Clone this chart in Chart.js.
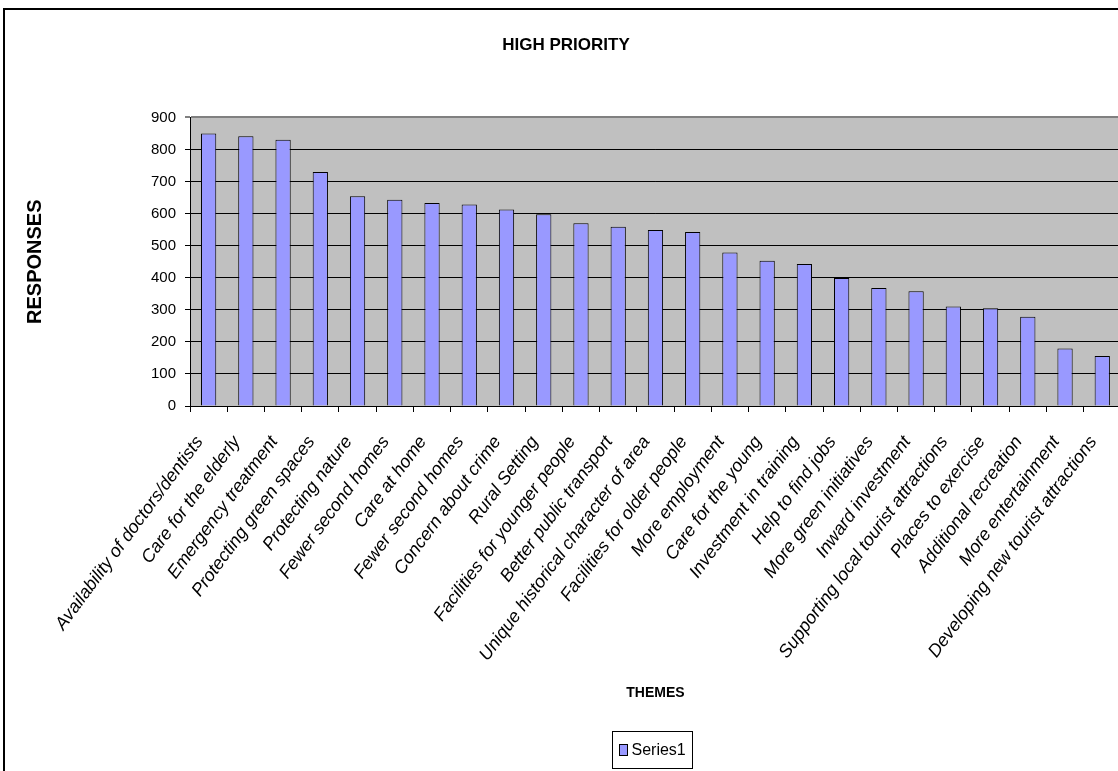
<!DOCTYPE html>
<html>
<head>
<meta charset="utf-8">
<script src="https://cdn.jsdelivr.net/npm/chart.js@4/dist/chart.umd.min.js"></script>
<style>
html,body{margin:0;padding:0;background:#fff;overflow:hidden;width:1118px;height:771px}
#wrap{position:absolute;left:0;top:0;width:1140px;height:771px}
</style>
</head>
<body>
<div id="wrap"><canvas id="c" width="1140" height="771"></canvas></div>
<script>
const categories = [
  "Availability of doctors/dentists", "Care for the elderly", "Emergency treatment",
  "Protecting green spaces", "Protecting nature", "Fewer second homes", "Care at home",
  "Fewer second homes", "Concern about crime", "Rural Setting", "Facilities for younger people",
  "Better public transport", "Unique historical character of area", "Facilities for older people",
  "More employment", "Care for the young", "Investment in training", "Help to find jobs",
  "More green initiatives", "Inward investment", "Supporting local tourist attractions",
  "Places to exercise", "Additional recreation", "More entertainment",
  "Developing new tourist attractions"
];
const responses = [850, 841, 830, 730, 654, 643, 633, 628, 613, 598, 570, 559, 549, 543, 479, 453, 443, 399, 368, 358, 310, 305, 278, 179, 156];
const yTicks = [0, 100, 200, 300, 400, 500, 600, 700, 800, 900];
const seriesName = "Series1";
const chartTitle = "HIGH PRIORITY";
const xTitle = "THEMES";
const yTitle = "RESPONSES";

const REG = "'Liberation Sans',Arial,sans-serif";

const framePlugin = {
  id: 'frame',
  beforeDraw(chart) {
    const ctx = chart.ctx, a = chart.chartArea;
    ctx.save();
    ctx.fillStyle = '#fff';
    ctx.fillRect(0, 0, chart.width, chart.height);
    ctx.fillStyle = '#000';
    ctx.fillRect(3, 8, 2, chart.height);
    ctx.fillRect(3, 8, chart.width, 2);
    ctx.fillStyle = '#C0C0C0';
    ctx.fillRect(a.left, a.top, a.right - a.left, a.bottom - a.top);
    ctx.restore();
  }
};

const legendPlugin = {
  id: 'boxLegend',
  afterDraw(chart) {
    const ctx = chart.ctx, a = chart.chartArea;
    const ds = chart.data.datasets[0];
    ctx.save();
    ctx.font = "16px " + REG;
    const tw = ctx.measureText(ds.label).width;
    const w = Math.round(tw + 26), h = 37;
    const cx = (a.left + a.right) / 2 - 3;
    const x = Math.round(cx - w / 2) + 0.5, y = 731.5;
    ctx.fillStyle = '#fff';
    ctx.fillRect(x, y, w, h);
    ctx.strokeStyle = '#000';
    ctx.lineWidth = 1;
    ctx.strokeRect(x, y, w, h);
    ctx.fillStyle = ds.backgroundColor;
    ctx.fillRect(x + 7, y + 13, 8, 11);
    ctx.strokeRect(x + 7, y + 13, 8, 11);
    ctx.fillStyle = '#000';
    ctx.textBaseline = 'middle';
    ctx.textAlign = 'left';
    ctx.fillText(ds.label, x + 19, y + h / 2 + 1);
    ctx.restore();
  }
};

new Chart(document.getElementById('c'), {
  type: 'bar',
  data: {
    labels: categories,
    datasets: [{
      label: seriesName,
      data: responses,
      backgroundColor: '#9999FF',
      borderColor: '#000',
      borderWidth: 1,
      barPercentage: 0.41,
      categoryPercentage: 1
    }]
  },
  options: {
    responsive: false,
    animation: false,
    events: [],
    layout: { padding: { left: 10, right: 18, top: 0, bottom: 50 } },
    plugins: {
      legend: { display: false },
      tooltip: { enabled: false },
      title: {
        display: true,
        text: chartTitle,
        color: '#000',
        font: { family: REG, size: 17, weight: 'bold' },
        padding: { top: 35, bottom: 62 }
      }
    },
    scales: {
      x: {
        grid: { drawOnChartArea: false, drawTicks: true, tickLength: 6, color: '#000', offset: true },
        border: { display: true, color: '#000', width: 1 },
        ticks: {
          color: '#000',
          font: { family: REG, size: 18, style: 'italic' },
          minRotation: 53.5, maxRotation: 53.5,
          autoSkip: false,
          labelOffset: -9,
          padding: 20
        },
        title: {
          display: true, text: xTitle, color: '#000',
          font: { family: REG, size: 14, weight: 'bold' },
          padding: { top: 0, bottom: 19 }
        },
        afterFit(s) { s.height = 315; }
      },
      y: {
        min: 0, max: 900,
        afterBuildTicks(s) { s.ticks = yTicks.map(v => ({ value: v })); },
        grid: {
          color: c => (c.tick && c.tick.value === 900) ? '#808080' : '#000',
          lineWidth: c => (c.tick && c.tick.value === 900) ? 2 : 1,
          tickLength: 5, drawTicks: true
        },
        border: { display: true, color: '#000', width: 1 },
        ticks: {
          color: '#000',
          font: { family: REG, size: 15 },
          padding: 9
        },
        title: {
          display: true, text: yTitle, color: '#000',
          font: { family: REG, size: 20, weight: 'bold' },
          padding: { top: 13, bottom: 0 }
        },
        afterFit(s) { s.width = 180; }
      }
    }
  },
  plugins: [framePlugin, legendPlugin]
});
</script>
</body>
</html>
